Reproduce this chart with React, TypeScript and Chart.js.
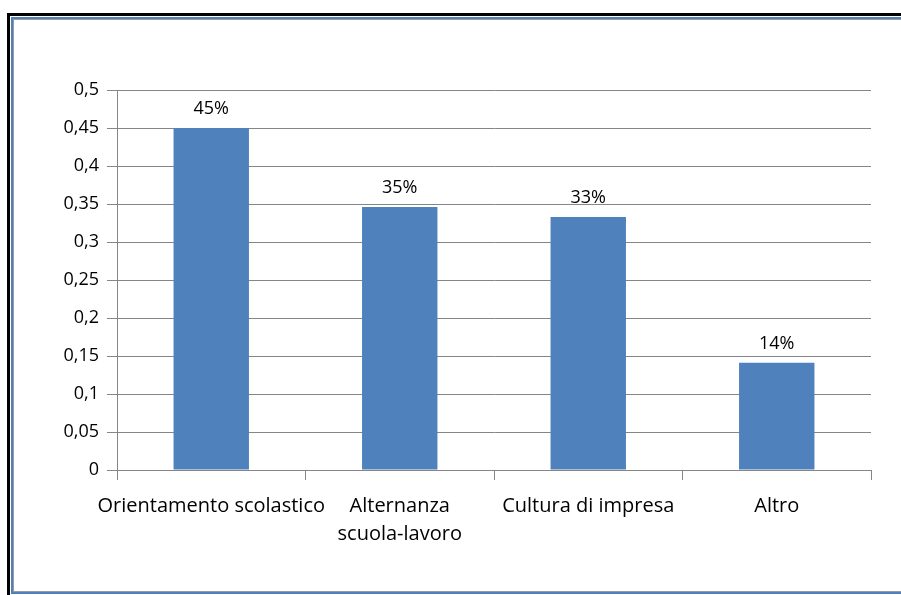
import React, { useEffect, useRef } from "react";
import { Chart, registerables } from "chart.js";

Chart.register(...registerables);

const categories: (string | string[])[] = [
  "Orientamento scolastico",
  ["Alternanza", "scuola-lavoro"],
  "Cultura di impresa",
  "Altro",
];
const values = [0.45, 0.346, 0.333, 0.141];
const valueLabels = ["45%", "35%", "33%", "14%"];

const FONT = "'Open Sans', sans-serif";
const GRID = "#868686";
const BAR = "#4f81bd";

const labelPlugin = {
  id: "barLabels",
  afterDatasetsDraw(chart: any) {
    const ctx = chart.ctx;
    const meta = chart.getDatasetMeta(0);
    ctx.save();
    ctx.font = `18px ${FONT}`;
    ctx.fillStyle = "#000";
    ctx.textAlign = "center";
    ctx.textBaseline = "middle";
    meta.data.forEach((el: any, i: number) => {
      ctx.fillText(valueLabels[i], el.x, el.y - 19);
    });
    ctx.restore();
  },
};

export default function App() {
  const ref = useRef<HTMLCanvasElement>(null);
  useEffect(() => {
    if (!ref.current) return;
    const chart = new Chart(ref.current, {
      type: "bar",
      data: {
        labels: categories,
        datasets: [
          {
            data: values,
            backgroundColor: BAR,
            borderWidth: 0,
            categoryPercentage: 1,
            barPercentage: 0.4,
          },
        ],
      },
      options: {
        responsive: false,
        animation: false,
        events: [],
        layout: { padding: { left: 30, top: 90, right: 30, bottom: 0 } },
        plugins: { legend: { display: false }, tooltip: { enabled: false } },
        scales: {
          x: {
            grid: {
              offset: true,
              drawOnChartArea: false,
              color: GRID,
              tickLength: 10,
              lineWidth: 1,
            },
            border: { color: GRID, width: 1 },
            ticks: {
              color: "#000",
              font: { family: FONT, size: 20, lineHeight: 1.4 },
              maxRotation: 0,
              minRotation: 0,
              autoSkip: false,
              padding: 12,
            },
            afterFit(scale: any) {
              scale.height = 125;
            },
          },
          y: {
            min: 0,
            max: 0.5,
            grid: { color: GRID, tickLength: 10, lineWidth: 1 },
            border: { color: GRID, width: 1 },
            ticks: {
              stepSize: 0.05,
              color: "#000",
              font: { family: FONT, size: 18 },
              padding: 8,
              callback: (v: any) =>
                String(Math.round(Number(v) * 100) / 100).replace(".", ","),
            },
            afterFit(scale: any) {
              scale.width = 87;
            },
          },
        },
      },
      plugins: [labelPlugin],
    });
    return () => chart.destroy();
  }, []);

  return (
    <div style={{ position: "fixed", left: 0, top: 0, width: 901, height: 595, overflow: "hidden", background: "#fff" }}>
      <div
        style={{
          position: "absolute",
          left: 7,
          top: 13,
          width: 1000,
          height: 585,
          boxSizing: "border-box",
          border: "3px solid #000",
          padding: 1,
        }}
      >
        <div
          style={{
            width: "100%",
            height: "100%",
            boxSizing: "border-box",
            border: "2px solid #4f81bd",
          }}
        >
          <div
            style={{
              width: "100%",
              height: "100%",
              boxSizing: "border-box",
              border: "1px solid #9a9a9a",
            }}
          />
        </div>
      </div>
      <canvas
        ref={ref}
        width={901}
        height={595}
        style={{ position: "absolute", left: 0, top: 0, width: 901, height: 595 }}
      />
    </div>
  );
}
